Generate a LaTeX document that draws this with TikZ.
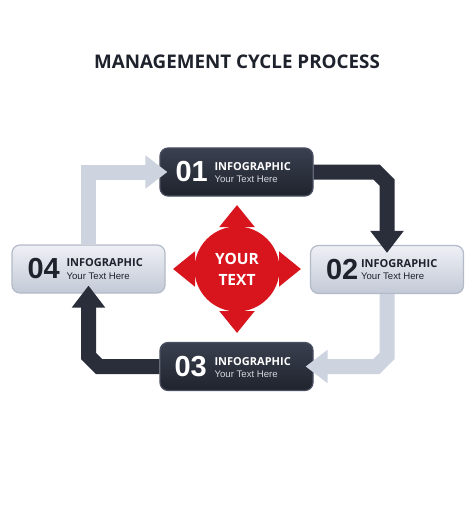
\documentclass[tikz,border=0pt]{standalone}
\usepackage{fontspec}
\setmainfont{Liberation Sans}
\newfontfamily\headfont{Open Sans}
\usepackage{xcolor}
\usetikzlibrary{arrows.meta}
\usetikzlibrary{positioning}

\definecolor{boxdarkline}{HTML}{4A5062}
\definecolor{boxdarktop}{HTML}{3A4050}
\definecolor{boxdarkbot}{HTML}{1F232C}
\definecolor{boxlighttop}{HTML}{EEF0F5}
\definecolor{boxlightbot}{HTML}{C3C9D6}
\definecolor{boxlightline}{HTML}{B3BAC8}
\definecolor{arrowlight}{HTML}{CDD3DF}
\definecolor{arrowdark}{HTML}{2A2E3A}
\definecolor{hubred}{HTML}{D8141D}
\definecolor{inkdark}{HTML}{1E222C}
\definecolor{subgrey}{HTML}{D5D8DF}

\newcommand{\headline}[1]{{\headfont\bfseries\fontsize{11}{12.5}\selectfont #1}}

\begin{document}
\begin{tikzpicture}[x=1pt,y=-1pt,
  darkbox/.style={rectangle,rounded corners=8pt,minimum width=153pt,minimum height=48pt,
    top color=boxdarktop,bottom color=boxdarkbot,draw=boxdarkline,line width=1.2pt},
  lightbox/.style={rectangle,rounded corners=8pt,minimum width=153pt,minimum height=48pt,
    top color=boxlighttop,bottom color=boxlightbot,draw=boxlightline,line width=1.2pt},
  numtext/.style={inner sep=0pt,font=\bfseries\fontsize{29}{29}\selectfont},
  labeltext/.style={inner sep=0pt,align=left,anchor=north west,font=\fontsize{9.6}{12.2}\selectfont},
  titletext/.style={inner sep=0pt,text=inkdark,font=\headfont\bfseries\fontsize{18.8}{20}\selectfont},
  fatarrow/.style={line width=15pt,line join=miter,shorten >=-8pt,
    -{Triangle[width=32pt,length=22pt]}},
  hubarrow/.style={hubred,line width=15pt,-{Triangle[width=34pt,length=22pt]}}]

  \fill[white] (0,0) rectangle (474,505);
  \useasboundingbox (0,0) rectangle (474,505);

  \node[titletext] (ttl) at (237,61.5) {MANAGEMENT CYCLE PROCESS};

  \node[darkbox] (b01) at (236.5,172) {};
  \node[lightbox] (b02) at (387,269.5) {};
  \node[darkbox] (b03) at (236.5,366.5) {};
  \node[lightbox] (b04) at (88.5,269) {};

  \node[numtext,text=white,anchor=west] (n01) at ([xshift=16pt]b01.west) {01};
  \node[labeltext,text=white] (t01) at ([xshift=55pt,yshift=9.6pt]b01.west)
    {\headline{INFOGRAPHIC}\\\textcolor{subgrey}{Your Text Here}};

  \node[numtext,text=inkdark,anchor=west] (n02) at ([xshift=16pt]b02.west) {02};
  \node[labeltext,text=inkdark] (t02) at ([xshift=51pt,yshift=10.2pt]b02.west)
    {\headline{INFOGRAPHIC}\\Your Text Here};

  \node[numtext,text=white,anchor=west] (n03) at ([xshift=15pt]b03.west) {03};
  \node[labeltext,text=white] (t03) at ([xshift=55pt,yshift=9.6pt]b03.west)
    {\headline{INFOGRAPHIC}\\\textcolor{subgrey}{Your Text Here}};

  \node[numtext,text=inkdark,anchor=west] (n04) at ([xshift=16pt]b04.west) {04};
  \node[labeltext,text=inkdark] (t04) at ([xshift=55pt,yshift=10.2pt]b04.west)
    {\headline{INFOGRAPHIC}\\Your Text Here};

  \coordinate (k12) at (b02.north |- b01.east);
  \coordinate (k23) at (b02.south |- b03.east);
  \coordinate (k34) at (b04.south |- b03.west);
  \coordinate (k41) at (b04.north |- b01.west);

  \draw[fatarrow,arrowlight] (b04.north) |- (b01.west);
  \draw[fatarrow,arrowdark] (b01.east) -- ([xshift=-10.6pt]k12) -- ([yshift=-10.6pt]k12) -- (b02.north);
  \draw[fatarrow,arrowlight] (b02.south) -- ([yshift=10.6pt]k23) -- ([xshift=-10.6pt]k23) -- (b03.east);
  \draw[fatarrow,arrowdark] (b03.west) -- ([xshift=10.6pt]k34) -- ([yshift=10.6pt]k34) -- (b04.south);

  \coordinate (hub) at (237,269);
  \draw[hubarrow] (hub) -- ++(0:64);
  \draw[hubarrow] (hub) -- ++(90:64);
  \draw[hubarrow] (hub) -- ++(180:64);
  \draw[hubarrow] (hub) -- ++(270:64);
  \node[circle,fill=hubred,minimum size=85pt,inner sep=0pt,text=white,align=center,
    font=\headfont\bfseries\fontsize{15.5}{21}\selectfont] (hubtxt) at (hub) {YOUR\\TEXT};
\end{tikzpicture}
\end{document}
